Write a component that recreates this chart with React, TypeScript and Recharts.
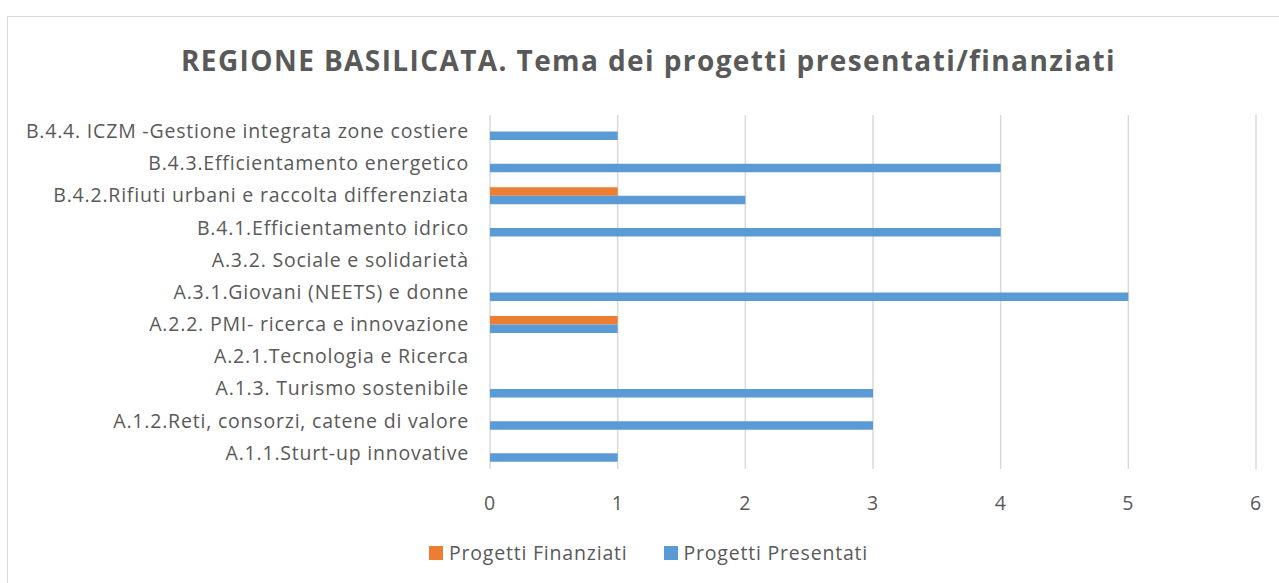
import { BarChart, Bar, XAxis, YAxis, CartesianGrid } from "recharts";

const categories = [
  "B.4.4. ICZM -Gestione integrata zone costiere",
  "B.4.3.Efficientamento energetico",
  "B.4.2.Rifiuti urbani e raccolta differenziata",
  "B.4.1.Efficientamento idrico",
  "A.3.2. Sociale e solidarietà",
  "A.3.1.Giovani (NEETS) e donne",
  "A.2.2. PMI- ricerca e innovazione",
  "A.2.1.Tecnologia e Ricerca",
  "A.1.3. Turismo sostenibile",
  "A.1.2.Reti, consorzi, catene di valore",
  "A.1.1.Sturt-up innovative",
];
const finanziati = [0, 0, 1, 0, 0, 0, 1, 0, 0, 0, 0];
const presentati = [1, 4, 2, 4, 0, 5, 1, 0, 3, 3, 1];
const xTicks = [0, 1, 2, 3, 4, 5, 6];

const series = [
  { key: "finanziati", name: "Progetti Finanziati", color: "#ED7D31" },
  { key: "presentati", name: "Progetti Presentati", color: "#5B9BD5" },
];

const data = categories.map((name, i) => ({
  name,
  finanziati: finanziati[i],
  presentati: presentati[i],
}));

const font = "'Open Sans', sans-serif";
const textColor = "#595959";
const tickStyle = { fill: textColor, fontSize: 19.5, fontFamily: font, letterSpacing: 0.8 };

export default function App() {
  return (
    <div
      style={{
        position: "absolute",
        left: 0,
        top: 0,
        width: 1279,
        height: 583,
        overflow: "hidden",
        background: "#fff",
        fontFamily: font,
      }}
    >
      <div
        style={{
          position: "absolute",
          left: 7,
          top: 16,
          width: 1300,
          height: 620,
          border: "1px solid #d9d9d9",
        }}
      />
      <div
        style={{
          position: "absolute",
          left: 0,
          top: 40,
          width: 1297,
          textAlign: "center",
          fontSize: 28,
          fontWeight: 700,
          color: textColor,
          lineHeight: "40px",
          letterSpacing: 1.4,
        }}
      >
        REGIONE BASILICATA. Tema dei progetti presentati/finanziati
      </div>
      <div style={{ position: "absolute", left: 0, top: 0 }}>
        <BarChart
          width={1279}
          height={583}
          data={data}
          layout="vertical"
          margin={{ top: 115, right: 23, bottom: 74, left: 0 }}
          barSize={8.5}
          barGap={0}
        >
          <CartesianGrid horizontal={false} stroke="#d9d9d9" strokeWidth={1.5} />
          <XAxis
            type="number"
            domain={[0, 6]}
            ticks={xTicks}
            axisLine={false}
            tickLine={false}
            tickSize={0}
            tickMargin={27}
            height={40}
            tick={tickStyle}
          />
          <YAxis
            type="category"
            dataKey="name"
            width={490}
            axisLine={false}
            tickLine={false}
            tickSize={0}
            tickMargin={21}
            interval={0}
            tick={tickStyle}
          />
          {series.map((s) => (
            <Bar
              key={s.key}
              dataKey={s.key}
              name={s.name}
              fill={s.color}
              isAnimationActive={false}
            />
          ))}
        </BarChart>
      </div>
      <div
        style={{
          position: "absolute",
          left: 0,
          top: 540,
          width: 1297,
          display: "flex",
          justifyContent: "center",
          gap: 36,
          fontSize: 19.5,
          letterSpacing: 0.8,
          color: textColor,
          lineHeight: "26px",
        }}
      >
        {series.map((s) => (
          <div key={s.key} style={{ display: "flex", alignItems: "center" }}>
            <span
              style={{
                display: "inline-block",
                width: 14,
                height: 14,
                background: s.color,
                marginRight: 6,
              }}
            />
            <span>{s.name}</span>
          </div>
        ))}
      </div>
    </div>
  );
}
